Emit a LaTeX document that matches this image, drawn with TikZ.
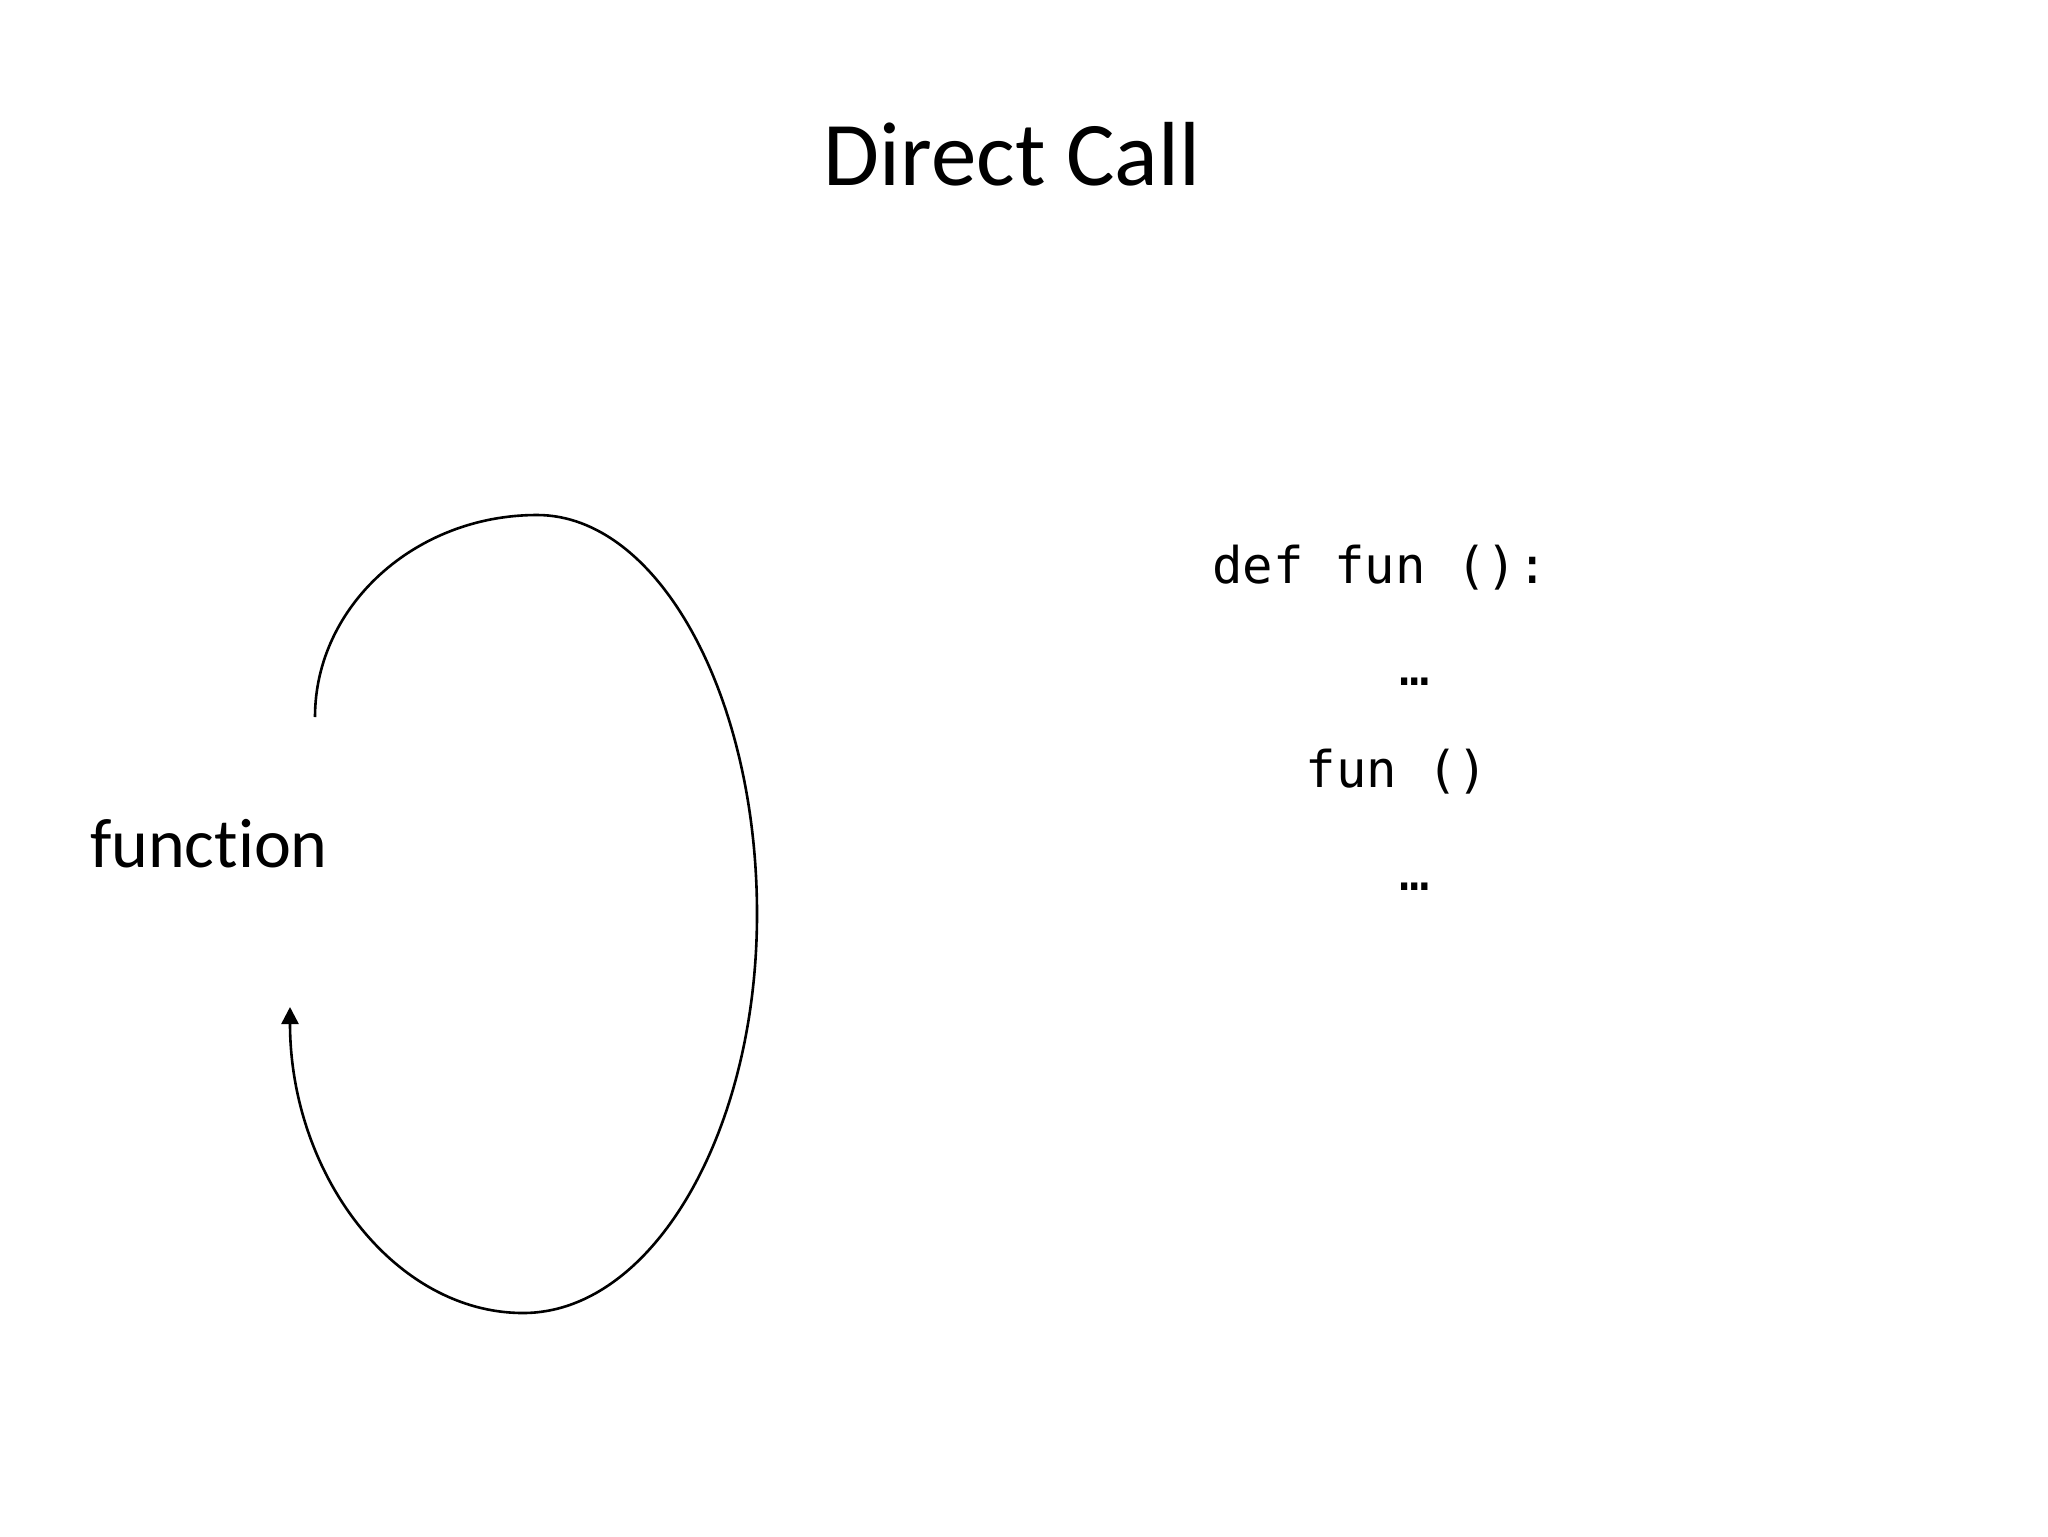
\documentclass[tikz,border=0pt]{standalone}
\usepackage{fontspec}
\setmainfont[Ligatures=NoCommon]{Carlito}
\newfontfamily\codefont{DejaVu Sans Mono}
\usetikzlibrary{arrows.meta}
\tikzset{
  lbl/.style={inner sep=0pt, anchor=base, text=black},
  titletext/.style={lbl, font=\fontsize{45.5}{52}\selectfont},
  bigtext/.style={lbl, font=\fontsize{35}{40}\selectfont},
  codetext/.style={lbl, font=\codefont\fontsize{25.3}{30}\selectfont},
  loop/.style={line width=1.3pt, -{Triangle[length=8.5pt,width=8.5pt]}}
}
\begin{document}
\begin{tikzpicture}[x=0.5pt,y=-0.5pt]
\useasboundingbox[fill=white] (0,0) rectangle (2048,1536);
\node[titletext] (title) at (1012,185) {Direct Call};
\node[bigtext] (func) at (209,867) {function};
\node[codetext] (def) at (1380,583) {def fun ():};
\node[codetext] (dots1) at (1415,685) {…};
\node[codetext] (call) at (1397,787) {fun ()};
\node[codetext] (dots2) at (1415,890) {…};
\coordinate (S) at (315,717);
\coordinate (T) at (537,515);
\coordinate (R) at (757,914);
\coordinate (B) at (523,1313);
\coordinate (E) at (290,1007);
\draw[loop] (S) .. controls (315,606) and (415,515) .. (T)
  .. controls (658,515) and (757,695) .. (R)
  .. controls (757,1133) and (652,1313) .. (B)
  .. controls (395,1313) and (290,1175) .. (E);
\end{tikzpicture}
\end{document}
